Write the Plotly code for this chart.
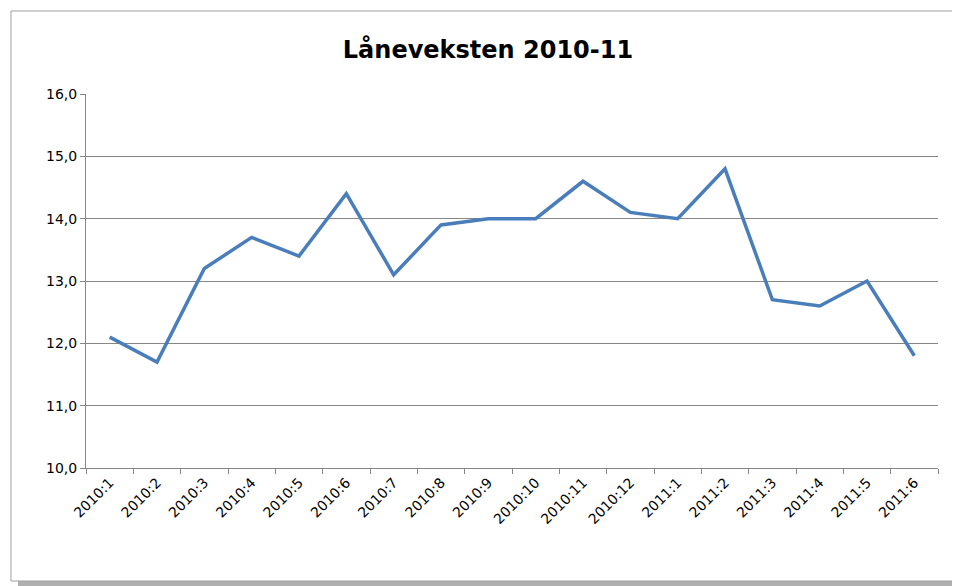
import plotly.graph_objects as go

periods = ["2010:1", "2010:2", "2010:3", "2010:4", "2010:5", "2010:6", "2010:7", "2010:8", "2010:9",
           "2010:10", "2010:11", "2010:12", "2011:1", "2011:2", "2011:3", "2011:4", "2011:5", "2011:6"]
growth = [12.1, 11.7, 13.2, 13.7, 13.4, 14.4, 13.1, 13.9, 14.0,
          14.0, 14.6, 14.1, 14.0, 14.8, 12.7, 12.6, 13.0, 11.8]

fig = go.Figure(go.Scatter(x=periods, y=growth, mode="lines",
                           line=dict(color="#4a7ebb", width=3.5)))

# plot area: x 78..930, y 86..460 (px)
L, T, W, H = 78, 86, 852, 374
def px_x(v): return (v - L) / W
def px_y(v): return (T + H - v) / H

fig.update_layout(
    width=960, height=586,
    margin=dict(l=L, r=960 - L - W, t=T, b=586 - T - H, autoexpand=False),
    paper_bgcolor="white", plot_bgcolor="white",
    showlegend=False,
    title=dict(text="<b>Lånevekst­en 2010-11</b>".replace("\u00ad", ""), x=0.5, xanchor="center",
               y=1 - 42 / 586, yanchor="middle",
               font=dict(family="DejaVu Sans", size=24, color="black")),
    font=dict(family="DejaVu Sans", size=14, color="black"),
    xaxis=dict(showgrid=False, showline=True, linecolor="#868686", ticks="outside",
               tickson="boundaries", ticklen=5, tickcolor="#868686", tickangle=-45,
               range=[-0.5, len(periods) - 0.5], automargin=False,
               tickfont=dict(size=14)),
    yaxis=dict(range=[10, 16], dtick=1, tickformat=".1f", showgrid=True,
               gridcolor="#868686", showline=True, linecolor="#868686",
               ticks="outside", ticklen=5, tickcolor="#868686", automargin=False),
    separators=", ",
    shapes=[
        dict(type="rect", xref="paper", yref="paper", layer="below",
             x0=px_x(10), x1=px_x(955), y0=px_y(580), y1=px_y(10),
             fillcolor="#b0b0b0", line=dict(width=0)),
        dict(type="rect", xref="paper", yref="paper", layer="below",
             x0=px_x(3), x1=px_x(948), y0=px_y(573), y1=px_y(3),
             fillcolor="white", line=dict(color="#a0a0a0", width=1)),
    ],
)

fig.write_html("out.html")
